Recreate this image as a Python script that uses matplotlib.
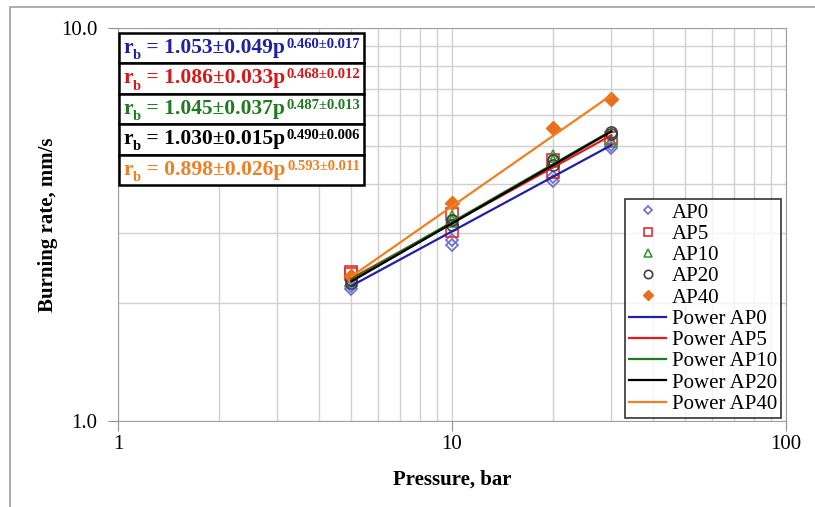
import matplotlib.pyplot as plt
import matplotlib.patches as patches
import matplotlib.ticker as mticker
from matplotlib.text import Annotation
import numpy as np

plt.rcParams['font.family'] = ['Liberation Serif', 'DejaVu Serif']

# measured burning rates (mm/s) vs pressure (bar)
p_ap0 = [5, 5, 10, 10, 20, 20, 30, 30]
r_ap0 = [2.17, 2.21, 2.80, 2.88, 4.08, 4.18, 4.95, 5.05]
p_ap5 = [5, 5, 10, 10, 20, 20, 30]
r_ap5 = [2.36, 2.40, 3.05, 3.36, 4.30, 4.62, 5.25]
p_ap10 = [5, 10, 10, 20, 20, 30]
r_ap10 = [2.27, 3.22, 3.30, 4.58, 4.72, 5.15]
p_ap20 = [5, 5, 10, 10, 20, 20, 30, 30]
r_ap20 = [2.25, 2.29, 3.15, 3.25, 4.48, 4.62, 5.38, 5.45]
p_ap40 = [5, 10, 20, 30]
r_ap40 = [2.34, 3.58, 5.55, 6.60]

# power-law fits r = a * p^n
fit_a = [1.053, 1.086, 1.045, 1.030, 0.898]
fit_da = [0.049, 0.033, 0.037, 0.015, 0.026]
fit_n = [0.460, 0.468, 0.487, 0.490, 0.593]
fit_dn = [0.017, 0.012, 0.013, 0.006, 0.011]
names = ['AP0', 'AP5', 'AP10', 'AP20', 'AP40']

line_colors = ['#1f1fa8', '#e41a1c', '#1e7b1e', '#000000', '#f07f22']
marker_colors = ['#6a6ad8', '#e03030', '#3a9a3a', '#404040', '#e8701a']
text_colors = ['#1f1fa8', '#d81818', '#1e7b1e', '#000000', '#f07f22']

fig = plt.figure(figsize=(8.15, 5.07), dpi=100)
ax = fig.add_axes([118 / 815, 1 - 421 / 507, (786 - 118) / 815, (421 - 28) / 507])

# outer frame of the figure
fig.patches.append(patches.Rectangle((10 / 815, -0.1), 1.2, 1 - 7 / 507 + 0.1,
                                     transform=fig.transFigure, fill=False,
                                     edgecolor='#a0a0a0', lw=1.2))

data = [(p_ap0, r_ap0), (p_ap5, r_ap5), (p_ap10, r_ap10), (p_ap20, r_ap20), (p_ap40, r_ap40)]
markers = ['D', 's', '^', 'o', 'D']
msizes = [6, 8, 8, 8, 7]

for i, (p, r) in enumerate(data):
    if i == 4:
        ax.plot(p, r, linestyle='none', marker=markers[i], ms=msizes[i],
                color=marker_colors[i], label=names[i], zorder=3)
    else:
        ax.plot(p, r, linestyle='none', marker=markers[i], ms=msizes[i],
                markerfacecolor='none', markeredgecolor=marker_colors[i],
                mew=1.2, label=names[i], zorder=3)

pp = np.array([5, 30])
for i in range(5):
    ax.plot(pp, fit_a[i] * pp ** fit_n[i], color=line_colors[i], lw=1.6,
            label='Power ' + names[i], zorder=4)

ax.set_xscale('log')
ax.set_yscale('log')
ax.set_xlim(1, 100)
ax.set_ylim(1, 10)
ax.set_xticks([1, 10, 100])
ax.set_xticklabels(['1', '10', '100'])
ax.set_yticks([1, 10])
ax.set_yticklabels(['1.0', '10.0'])
ax.xaxis.set_minor_formatter(mticker.NullFormatter())
ax.yaxis.set_minor_formatter(mticker.NullFormatter())
ax.tick_params(which='minor', length=0)
ax.tick_params(which='major', length=7, color='#909090', labelsize=15)
ax.tick_params(axis='y', pad=8)
ax.tick_params(axis='x', pad=3)
ax.grid(True, which='both', color='#d0d0d0', lw=1)
ax.set_axisbelow(True)
for s in ax.spines.values():
    s.set_color('#a0a0a0')

ax.set_xlabel('Pressure, bar', fontsize=15, fontweight='bold', labelpad=11)
ax.set_ylabel('Burning rate, mm/s', fontsize=15, fontweight='bold', labelpad=2)

leg = ax.legend(loc='lower right', bbox_to_anchor=((781 - 118) / 668, (421 - 418) / 393),
                fontsize=15, frameon=True, fancybox=False, edgecolor='black',
                labelspacing=0.08, handlelength=1.8, handletextpad=0.25,
                borderpad=0.2, borderaxespad=0, markerscale=0.75)
leg.get_frame().set_linewidth(1.2)

# equation boxes
box_h = 30.4
for i in range(5):
    top = 33 + i * box_h
    fig.patches.append(patches.Rectangle((119 / 815, 1 - (top + box_h) / 507),
                                         (364 - 119) / 815, box_h / 507,
                                         transform=fig.transFigure, facecolor='white',
                                         edgecolor='black', lw=1.8, zorder=5))
    c = text_colors[i]
    base_y = 1 - (top + 25) / 507
    t_r = fig.text(123 / 815, base_y, 'r', color=c, fontsize=15.5, fontweight='bold',
                   va='bottom', ha='left', zorder=6)
    t_b = Annotation('b', xy=(1, 0), xycoords=t_r, xytext=(0, -3),
                     textcoords='offset points', color=c, fontsize=10.5,
                     fontweight='bold', va='bottom', ha='left')
    t_b.set_zorder(6)
    fig.add_artist(t_b)
    t_main = Annotation(' = %.3f\u00b1%.3fp' % (fit_a[i], fit_da[i]),
                        xy=(1, 0), xycoords=(t_b, t_r), color=c, fontsize=15.5,
                        fontweight='bold', va='bottom', ha='left')
    t_main.set_zorder(6)
    fig.add_artist(t_main)
    t_sup = Annotation('%.3f\u00b1%.3f' % (fit_n[i], fit_dn[i]),
                       xy=(1, 1), xycoords=t_main, xytext=(1.5, 0),
                       textcoords='offset points', color=c, fontsize=10.5,
                       fontweight='bold', va='top', ha='left')
    t_sup.set_zorder(6)
    fig.add_artist(t_sup)

fig.savefig('out.png', dpi=100)
